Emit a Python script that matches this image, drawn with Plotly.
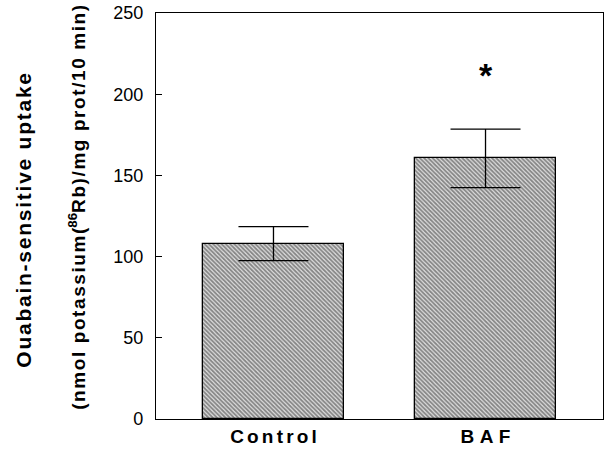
import plotly.graph_objects as go

categories = ["Control", "BAF"]
values = [108, 160.5]
errors = [10.5, 18]
y_ticks = [0, 50, 100, 150, 200, 250]
sig_marker_y = 212

HS = "\u200a"


def spaced(s, sep=HS):
    return sep.join(list(s))


fig = go.Figure()
fig.add_trace(go.Bar(
    x=categories, y=values,
    width=0.665,
    marker=dict(
        color="white",
        line=dict(color="black", width=1.3),
        pattern=dict(shape="\\", size=3, solidity=0.6, fgcolor="#2a2a2a", bgcolor="#e0e0e0"),
    ),
    error_y=dict(type="data", array=errors, visible=True, color="black", thickness=1.3, width=35),
    showlegend=False,
))

fig.add_annotation(x="BAF", y=sig_marker_y, text="<b>*</b>", showarrow=False,
                   font=dict(family="Liberation Sans, Arial", size=34, color="black"),
                   xanchor="center", yanchor="middle")

fig.add_annotation(xref="paper", yref="paper", x=(23 - 156) / 446, y=(419 - 220) / 406,
                   text="<b>" + spaced("Ouabain-sensitive uptake") + "</b>", textangle=-90,
                   showarrow=False,
                   font=dict(family="Liberation Sans, Arial", size=21, color="black"),
                   xanchor="center", yanchor="middle")
fig.add_annotation(xref="paper", yref="paper", x=(77 - 156) / 446, y=(419 - 207) / 406,
                   text="<b>" + spaced("(nmol potassium(") + "<sup>86</sup>" + spaced("Rb)/mg prot/10 min)") + "</b>",
                   textangle=-90, showarrow=False,
                   font=dict(family="Liberation Sans, Arial", size=19, color="black"),
                   xanchor="center", yanchor="middle")

fig.update_layout(
    width=607, height=456,
    margin=dict(l=156, r=4, t=13, b=37),
    plot_bgcolor="white", paper_bgcolor="white",
    font=dict(family="Liberation Sans, Arial", color="black"),
    bargap=0,
)
fig.update_xaxes(
    range=[-0.554, 1.554], showline=True, linecolor="black", linewidth=1.3, mirror=True,
    ticks="", tickfont=dict(size=19, family="Liberation Sans, Arial"),
    ticktext=["<b>" + spaced("Control", HS + HS) + "</b>", "<b>" + spaced("BAF", "\u2009" + HS) + "</b>"],
    tickvals=categories, showgrid=False,
)
fig.update_yaxes(
    range=[0, 250], tickvals=y_ticks, ticks="inside", ticklen=6, tickcolor="black",
    showline=True, linecolor="black", linewidth=1.3, mirror=True, showgrid=False, zeroline=False,
    tickfont=dict(size=18, family="Liberation Sans, Arial"), ticklabelstandoff=8,
)

fig.write_html(
    "out.html",
    config={"displayModeBar": False},
    post_script="document.body.style.margin='0';document.body.style.overflow='hidden';",
)
